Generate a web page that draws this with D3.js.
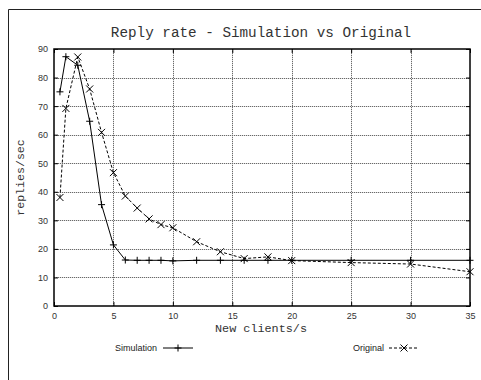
<!DOCTYPE html>
<html>
<head>
<meta charset="utf-8">
<script src="https://cdn.jsdelivr.net/npm/d3@7"></script>
<style>
  body { margin: 0; background: #fff; }
  svg { display: block; }
</style>
</head>
<body>
<div id="chart"></div>
<script>
// values
const simX = [0.5, 1, 2, 3, 4, 5, 6, 7, 8, 9, 10, 12, 14, 16, 18, 20, 25, 30, 35];
const simY = [75, 87.3, 84.3, 64.7, 35.5, 21.4, 16.1, 16, 16, 16, 15.8, 16, 16, 16, 16, 16, 16, 16, 16];
const origX = [0.5, 1, 2, 3, 4, 5, 6, 7, 8, 9, 10, 12, 14, 16, 18, 20, 25, 30, 35];
const origY = [38, 69.2, 87.2, 76, 60.8, 46.7, 38.5, 34.3, 30.5, 28.5, 27.4, 22.5, 19, 16.6, 17.2, 15.9, 15.2, 14.7, 12];
const xTicks = [0, 5, 10, 15, 20, 25, 30, 35];
const yTicks = [0, 10, 20, 30, 40, 50, 60, 70, 80, 90];

const width = 481;
const height = 380;
const margin = {top: 49, left: 54, right: 11, bottom: 74};

let svg = d3.select("#chart")
            .append("svg")
            .attr("width", width)
            .attr("height", height);

// outer frame (cropped at right/bottom)
svg.append("path")
    .attr("d", "M8.5," + height + "V9.5H" + width)
    .style("fill", "none")
    .style("stroke", "#222")
    .style("stroke-width", 1);

let xScale = d3.scaleLinear()
            .domain([0, 35])
            .range([margin.left, width - margin.right]);

let yScale = d3.scaleLinear()
            .domain([0, 90])
            .range([height - margin.bottom, margin.top]);

const x0 = xScale(0), x1 = xScale(35), y0 = yScale(0), y1 = yScale(90);

// grid: faint solid line under dark dots
function drawGrid(color, dash) {
    let grid = svg.append("g")
        .style("stroke", color)
        .style("stroke-width", 1)
        .style("stroke-dasharray", dash);

    grid.selectAll(".gx")
        .data(xTicks.slice(1, -1))
        .enter()
        .append("line")
        .attr("x1", function(d) {return Math.round(xScale(d)) + 0.5;})
        .attr("x2", function(d) {return Math.round(xScale(d)) + 0.5;})
        .attr("y1", y0)
        .attr("y2", y1);

    grid.selectAll(".gy")
        .data(yTicks.slice(1, -1))
        .enter()
        .append("line")
        .attr("x1", x0)
        .attr("x2", x1)
        .attr("y1", function(d) {return Math.round(yScale(d)) + 0.5;})
        .attr("y2", function(d) {return Math.round(yScale(d)) + 0.5;});
}
drawGrid("#dcdcdc", "none");
drawGrid("#6a6a6a", "1,1");

// axes with inward ticks, mirrored
const tickFont = "'Liberation Sans', Arial, sans-serif";

let xAxis = svg.append("g")
    .attr("transform", "translate(0," + y0 + ")")
    .call(d3.axisBottom(xScale).tickValues(xTicks).tickSizeInner(-4).tickSizeOuter(0).tickPadding(7));
let xTop = svg.append("g")
    .attr("transform", "translate(0," + y1 + ")")
    .call(d3.axisTop(xScale).tickValues(xTicks).tickSizeInner(-4).tickSizeOuter(0).tickFormat(""));
let yAxis = svg.append("g")
    .attr("transform", "translate(" + x0 + ",0)")
    .call(d3.axisLeft(yScale).tickValues(yTicks).tickSizeInner(-4).tickSizeOuter(0).tickPadding(6));
let yRight = svg.append("g")
    .attr("transform", "translate(" + x1 + ",0)")
    .call(d3.axisRight(yScale).tickValues(yTicks).tickSizeInner(-4).tickSizeOuter(0).tickFormat(""));

[xAxis, xTop, yAxis, yRight].forEach(function(a) {
    a.select(".domain").remove();
    a.selectAll("line").style("stroke", "#000");
    a.selectAll("text")
        .style("font-family", tickFont)
        .style("font-size", "9px")
        .style("fill", "#333");
});

// plot border
svg.append("rect")
    .attr("x", x0)
    .attr("y", y1)
    .attr("width", x1 - x0)
    .attr("height", y0 - y1)
    .style("fill", "none")
    .style("stroke", "#000")
    .style("stroke-width", 1.5);

// series
const sim = simX.map(function(d, i) {return {x: d, y: simY[i]};});
const orig = origX.map(function(d, i) {return {x: d, y: origY[i]};});

let line = d3.line()
    .x(function(d) {return xScale(d.x);})
    .y(function(d) {return yScale(d.y);});

svg.append("path")
    .datum(orig)
    .attr("d", line)
    .style("fill", "none")
    .style("stroke", "#000")
    .style("stroke-width", 1)
    .style("stroke-dasharray", "3,2");

svg.append("path")
    .datum(sim)
    .attr("d", line)
    .style("fill", "none")
    .style("stroke", "#000")
    .style("stroke-width", 1);

const m = 3.5;
function plus(g, cx, cy) {
    g.append("path")
        .attr("d", "M" + (cx - m) + "," + cy + "H" + (cx + m) + "M" + cx + "," + (cy - m) + "V" + (cy + m))
        .style("stroke", "#000")
        .style("stroke-width", 1);
}
function cross(g, cx, cy) {
    g.append("path")
        .attr("d", "M" + (cx - m) + "," + (cy - m) + "L" + (cx + m) + "," + (cy + m) +
                   "M" + (cx - m) + "," + (cy + m) + "L" + (cx + m) + "," + (cy - m))
        .style("stroke", "#000")
        .style("stroke-width", 1);
}

let marks = svg.append("g");
sim.forEach(function(d) {plus(marks, xScale(d.x), yScale(d.y));});
orig.forEach(function(d) {cross(marks, xScale(d.x), yScale(d.y));});

// titles
const monoFont = "'Liberation Mono', 'Courier New', monospace";

svg.append("text")
    .attr("x", 261)
    .attr("y", 37)
    .attr("text-anchor", "middle")
    .style("font-family", monoFont)
    .style("font-size", "14.3px")
    .style("fill", "#333")
    .text("Reply rate - Simulation vs Original");

svg.append("text")
    .attr("x", 261)
    .attr("y", 332)
    .attr("text-anchor", "middle")
    .style("font-family", monoFont)
    .style("font-size", "11.8px")
    .style("fill", "#333")
    .text("New clients/s");

svg.append("text")
    .attr("transform", "translate(24," + ((y0 + y1) / 2) + ") rotate(-90)")
    .attr("text-anchor", "middle")
    .style("font-family", monoFont)
    .style("font-size", "11.6px")
    .style("fill", "#333")
    .text("replies/sec");

// legend
let legend = svg.append("g");
const legY = 348;

legend.append("text")
    .attr("x", 157)
    .attr("y", legY + 3)
    .attr("text-anchor", "end")
    .style("font-family", tickFont)
    .style("font-size", "9px")
    .style("fill", "#222")
    .text("Simulation");
legend.append("line")
    .attr("x1", 163).attr("x2", 193)
    .attr("y1", legY).attr("y2", legY)
    .style("stroke", "#000");
plus(legend, 178, legY);

legend.append("text")
    .attr("x", 384)
    .attr("y", legY + 3)
    .attr("text-anchor", "end")
    .style("font-family", tickFont)
    .style("font-size", "9px")
    .style("fill", "#222")
    .text("Original");
legend.append("line")
    .attr("x1", 389).attr("x2", 419)
    .attr("y1", legY).attr("y2", legY)
    .style("stroke", "#000")
    .style("stroke-dasharray", "3,2");
cross(legend, 404, legY);
</script>
</body>
</html>
